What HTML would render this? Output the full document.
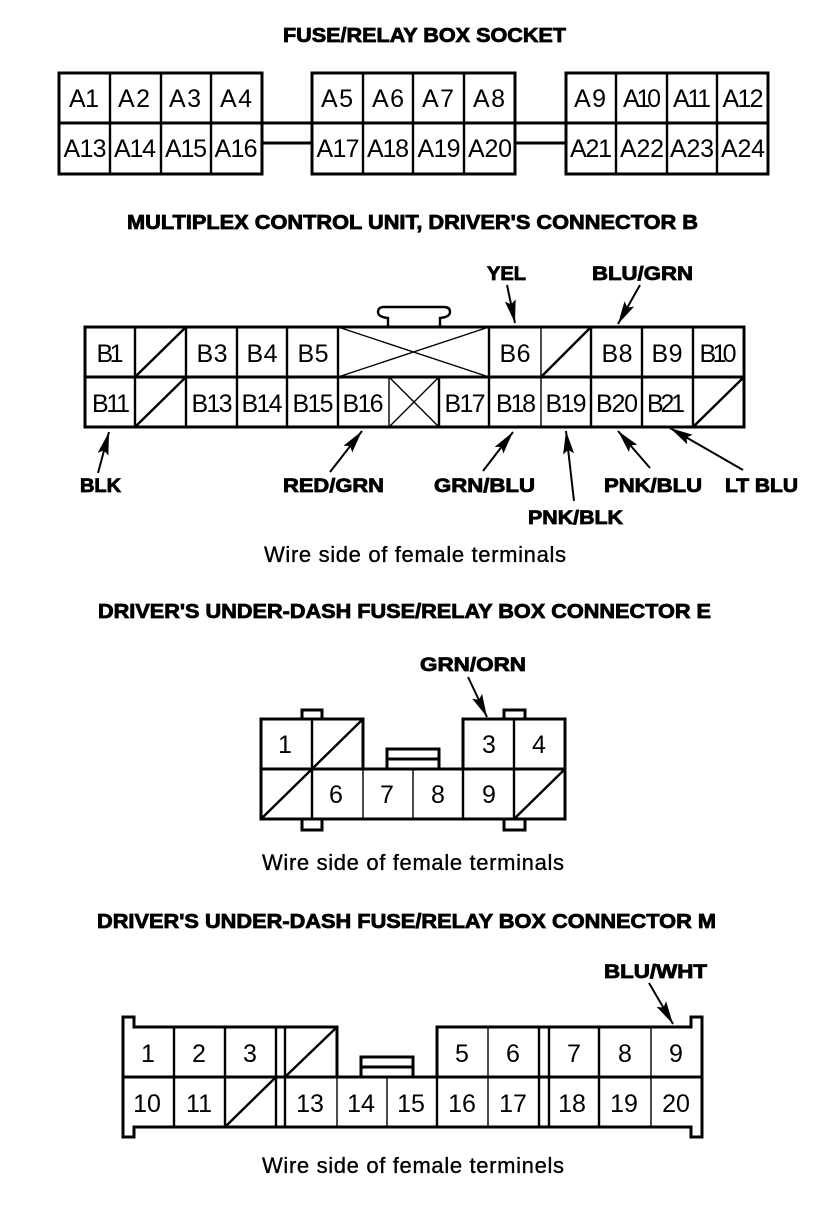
<!DOCTYPE html>
<html><head><meta charset="utf-8"><style>
html,body{margin:0;padding:0;background:#fff}
svg{display:block}
text{font-family:"Liberation Sans",sans-serif;fill:#000}
.t{font-weight:bold;font-size:20px;stroke:#000;stroke-width:.8px}
.l{font-weight:bold;font-size:19px;stroke:#000;stroke-width:.8px}
.c{font-size:25px;text-anchor:middle}
.w{font-size:22px;stroke:#000;stroke-width:.35px}
.k{stroke:#000;stroke-width:3;fill:none}
.m{stroke:#000;stroke-width:2.4;fill:none}
.n{stroke:#000;stroke-width:1.4;fill:none}
.a{stroke:#000;stroke-width:2;fill:none;marker-end:url(#h)}
</style></head><body>
<svg width="832" height="1220" viewBox="0 0 832 1220" xmlns="http://www.w3.org/2000/svg">
<defs><marker id="h" markerUnits="userSpaceOnUse" markerWidth="24" markerHeight="14" refX="23" refY="7" orient="auto"><path d="M0,1.5 L23,7 L0,12.5 L4,7 Z" fill="#000"/></marker></defs>
<rect width="832" height="1220" fill="#fff"/>

<!-- Section A -->
<text class="t" x="283" y="42" textLength="283" lengthAdjust="spacingAndGlyphs">FUSE/RELAY BOX SOCKET</text>
<path class="k" d="M59,73H262V174H59Z M59,123H262 M312,73H515V174H312Z M312,123H515 M566,73H768V174H566Z M566,123H768 M262,123H312 M262,143H312 M515,123H566 M515,143H566"/>
<path class="m" d="M110,73V174 M161,73V174 M211,73V174 M363,73V174 M413,73V174 M464,73V174 M616,73V174 M667,73V174 M717,73V174"/>
<text class="c" x="84" y="107" textLength="30">A1</text><text class="c" x="134" y="107" textLength="32">A2</text><text class="c" x="185" y="107" textLength="32">A3</text><text class="c" x="236" y="107" textLength="32">A4</text>
<text class="c" x="337" y="107" textLength="32">A5</text><text class="c" x="388" y="107" textLength="32">A6</text><text class="c" x="438" y="107" textLength="32">A7</text><text class="c" x="489" y="107" textLength="32">A8</text>
<text class="c" x="590" y="107" textLength="32">A9</text><text class="c" x="642" y="107" textLength="38">A10</text><text class="c" x="692" y="107" textLength="38">A11</text><text class="c" x="743" y="107" textLength="41">A12</text>
<text class="c" x="85" y="157" textLength="43">A13</text><text class="c" x="135" y="157" textLength="42">A14</text><text class="c" x="186" y="157" textLength="42">A15</text><text class="c" x="236" y="157" textLength="43">A16</text>
<text class="c" x="338" y="157" textLength="43">A17</text><text class="c" x="388" y="157" textLength="42">A18</text><text class="c" x="439" y="157" textLength="43">A19</text><text class="c" x="490" y="157" textLength="44">A20</text>
<text class="c" x="591" y="157" textLength="42">A21</text><text class="c" x="642" y="157" textLength="44">A22</text><text class="c" x="692" y="157" textLength="44">A23</text><text class="c" x="743" y="157" textLength="44">A24</text>

<!-- Section B -->
<text class="t" x="127" y="229" textLength="571" lengthAdjust="spacingAndGlyphs">MULTIPLEX CONTROL UNIT, DRIVER'S CONNECTOR B</text>
<path class="m" d="M388,326V318Q378,317 378,312Q378,307 384,307H444Q450,307 450,312Q450,317 440,318V326"/>
<path class="k" d="M85,327H744V427H85Z M85,377H744"/>
<path class="m" d="M135,327V427 M186,327V427 M237,327V427 M287,327V427 M338,327V427 M439,377V427 M489,327V427 M591,327V427 M642,327V427 M693,327V427"/>
<path class="n" d="M389,377V427 M541,327V427"/>
<path class="m" d="M135,377L186,327 M135,427L186,377 M541,377L591,327 M693,427L744,377"/>
<path class="n" d="M338,327L489,377 M338,377L489,327 M389,377L439,427 M389,427L439,377"/>
<text class="c" x="110" y="362" textLength="27">B1</text><text class="c" x="212" y="362" textLength="31">B3</text><text class="c" x="262" y="362" textLength="31">B4</text><text class="c" x="313" y="362" textLength="31">B5</text>
<text class="c" x="515" y="362" textLength="31">B6</text><text class="c" x="617" y="362" textLength="31">B8</text><text class="c" x="667" y="362" textLength="31">B9</text><text class="c" x="718" y="362" textLength="37">B10</text>
<text class="c" x="111" y="412" textLength="38">B11</text><text class="c" x="212" y="412" textLength="41">B13</text><text class="c" x="262" y="412" textLength="41">B14</text><text class="c" x="313" y="412" textLength="41">B15</text><text class="c" x="363" y="412" textLength="41">B16</text>
<text class="c" x="465" y="412" textLength="41">B17</text><text class="c" x="516" y="412" textLength="40">B18</text><text class="c" x="566" y="412" textLength="41">B19</text><text class="c" x="617" y="412" textLength="42">B20</text><text class="c" x="666" y="412" textLength="38">B21</text>
<path class="a" d="M507,285L515,323"/><path class="a" d="M640,285L618,324"/>
<path class="a" d="M98,473L109,432"/><path class="a" d="M330,472L362,431"/><path class="a" d="M483,471L513,432"/><path class="a" d="M574,501L566,431"/><path class="a" d="M650,468L618,431"/><path class="a" d="M743,470L670,428"/>
<text class="l" x="487" y="280" textLength="39" lengthAdjust="spacingAndGlyphs">YEL</text><text class="l" x="592" y="280" textLength="101" lengthAdjust="spacingAndGlyphs">BLU/GRN</text>
<text class="l" x="80" y="492" textLength="41" lengthAdjust="spacingAndGlyphs">BLK</text><text class="l" x="283" y="492" textLength="101" lengthAdjust="spacingAndGlyphs">RED/GRN</text><text class="l" x="434" y="492" textLength="101" lengthAdjust="spacingAndGlyphs">GRN/BLU</text><text class="l" x="604" y="492" textLength="98" lengthAdjust="spacingAndGlyphs">PNK/BLU</text><text class="l" x="725" y="492" textLength="73" lengthAdjust="spacingAndGlyphs">LT BLU</text>
<text class="l" x="528" y="524" textLength="95" lengthAdjust="spacingAndGlyphs">PNK/BLK</text>
<text class="w" x="264" y="562" textLength="302">Wire side of female terminals</text>

<!-- Section E -->
<text class="t" x="98" y="618" textLength="613" lengthAdjust="spacingAndGlyphs">DRIVER'S UNDER-DASH FUSE/RELAY BOX CONNECTOR E</text>
<path class="k" d="M302,718V710H322V718 M504,718V710H525V718 M302,820V830H322V820 M504,820V830H525V820 M387,768V749H439V768 M387,759H439"/>
<path class="k" d="M363,769V719H261V819H565V719H463V769 M261,769H565"/>
<path class="m" d="M312,719V819 M463,769V819 M514,719V819"/>
<path class="n" d="M363,769V819 M413,769V819"/>
<path class="m" d="M261,819L312,769L363,719 M514,819L565,769"/>
<text class="c" x="285" y="753">1</text><text class="c" x="489" y="753">3</text><text class="c" x="539" y="753">4</text>
<text class="c" x="336" y="803">6</text><text class="c" x="387" y="803">7</text><text class="c" x="438" y="803">8</text><text class="c" x="489" y="803">9</text>
<path class="a" d="M468,677L487,717"/>
<text class="l" x="420" y="671" textLength="106" lengthAdjust="spacingAndGlyphs">GRN/ORN</text>
<text class="w" x="262" y="870" textLength="302">Wire side of female terminals</text>

<!-- Section M -->
<text class="t" x="97" y="928" textLength="619" lengthAdjust="spacingAndGlyphs">DRIVER'S UNDER-DASH FUSE/RELAY BOX CONNECTOR M</text>
<path class="k" d="M361,1076V1057H413V1076 M361,1067H413"/>
<path class="k" d="M337,1077V1027H134V1017H123V1137H134V1127H691V1137H702V1017H691V1027H437V1077 M123,1077H702"/>
<path class="m" d="M174,1027V1127 M225,1027V1127 M276,1027V1127 M285,1027V1127 M437,1077V1127 M539,1027V1127 M549,1027V1127 M599,1027V1127"/>
<path class="n" d="M337,1077V1127 M387,1077V1127 M488,1027V1127 M651,1027V1127"/>
<path class="m" d="M285,1077L337,1027 M225,1127L276,1077"/>
<text class="c" x="148" y="1062">1</text><text class="c" x="199" y="1062">2</text><text class="c" x="250" y="1062">3</text><text class="c" x="462" y="1062">5</text><text class="c" x="513" y="1062">6</text><text class="c" x="574" y="1062">7</text><text class="c" x="625" y="1062">8</text><text class="c" x="676" y="1062">9</text>
<text class="c" x="147" y="1112">10</text><text class="c" x="199" y="1112">11</text><text class="c" x="310" y="1112">13</text><text class="c" x="361" y="1112">14</text><text class="c" x="411" y="1112">15</text><text class="c" x="462" y="1112">16</text><text class="c" x="513" y="1112">17</text><text class="c" x="572" y="1112">18</text><text class="c" x="624" y="1112">19</text><text class="c" x="676" y="1112">20</text>
<path class="a" d="M649,983L673,1024"/>
<text class="l" x="604" y="978" textLength="103" lengthAdjust="spacingAndGlyphs">BLU/WHT</text>
<text class="w" x="262" y="1173" textLength="302">Wire side of female terminels</text>
</svg>
</body></html>
